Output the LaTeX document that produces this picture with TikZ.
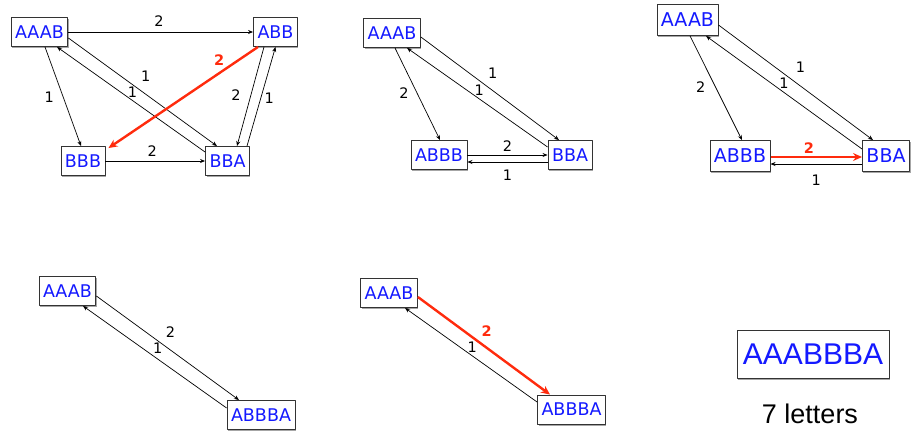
\documentclass[tikz,border=0pt]{standalone}
\usepackage{fontspec}
\usepackage{tikz}
\usetikzlibrary{arrows.meta,shadows}
\setmainfont{Liberation Sans}
\newfontfamily\lucid{DejaVu Sans}
\definecolor{stateblue}{rgb}{0.08,0.1,1.0}
\definecolor{hotred}{rgb}{1.0,0.17,0.05}
\tikzset{
  state/.style={draw=black!80, line width=0.9pt, fill=white, text=stateblue,
    font=\lucid\fontsize{17.5}{18}\selectfont, minimum height=29pt,
    inner xsep=4pt, inner ysep=0pt,
    drop shadow={shadow xshift=1pt, shadow yshift=-1.5pt, opacity=.35, fill=black}},
  big state/.style={state, font=\lucid\fontsize{19}{20}\selectfont, minimum height=31pt},
  edge/.style={-{Stealth[length=5pt,width=4pt]}, line width=0.7pt, black},
  hot/.style={-{Stealth[length=9pt,width=8pt]}, line width=2.4pt, hotred},
  lbl/.style={font=\lucid\fontsize{14.5}{15}\selectfont, inner sep=0pt},
  hot lbl/.style={lbl, text=hotred, font=\lucid\bfseries\fontsize{14.5}{15}\selectfont},
}
\begin{document}
\begin{tikzpicture}[x=1pt,y=-1pt,line join=bevel]
\useasboundingbox (0,0) rectangle (913,445);
%%
% Node: AAAB, ABB, BBB, BBA
\node[state] (p1aaab) at (39.5,32) {AAAB};
\node[state] (p1abb) at (275.5,32) {ABB};
\node[state] (p1bbb) at (83,161) {BBB};
\node[state] (p1bba) at (227.5,161) {BBA};
% Edge: AAAB -> ABB
\draw[edge] (p1aaab.east) -- node[lbl,pos=.49,yshift=11pt] {2} (p1abb.west);
% Edge: AAAB -> BBB
\draw[edge] ([xshift=5.5pt]p1aaab.south) -- node[lbl,pos=.51,xshift=-14pt] {1} ([xshift=-2pt]p1bbb.north);
% Edge: AAAB -> BBA
\draw[edge] ([yshift=-6pt]p1aaab.east) -- node[lbl,pos=.52,yshift=18pt] {1} ([xshift=-10.5pt]p1bba.north);
% Edge: BBA -> AAAB
\draw[edge] ([yshift=9pt]p1bba.west) -- node[lbl,pos=.49,yshift=8.5pt] {1} ([xshift=17.5pt]p1aaab.south);
% Edge: ABB -> BBB
\draw[hot] ([xshift=-17.5pt]p1abb.south) -- node[hot lbl,pos=.26,yshift=13pt] {2} ([xshift=3pt,yshift=-2pt]p1bbb.north east);
% Edge: ABB -> BBA
\draw[edge] ([xshift=-11.5pt]p1abb.south) -- node[lbl,pos=.485,xshift=-15pt] {2} ([xshift=9.5pt]p1bba.north);
% Edge: BBA -> ABB
\draw[edge] ([xshift=19.5pt]p1bba.north) -- node[lbl,pos=.48,xshift=8.5pt] {1} (p1abb.south);
% Edge: BBB -> BBA
\draw[edge] (p1bbb.east) -- node[lbl,pos=.47,yshift=10pt] {2} (p1bba.west);
%%
% Node: AAAB, ABBB, BBA
\node[state] (p2aaab) at (392,33) {AAAB};
\node[state] (p2abbb) at (439,155) {ABBB};
\node[state] (p2bba) at (570,155) {BBA};
% Edge: AAAB -> ABBB
\draw[edge] ([xshift=3pt]p2aaab.south) -- node[lbl,pos=.49,xshift=-13pt] {2} ([xshift=1pt]p2abbb.north);
% Edge: AAAB -> BBA
\draw[edge] ([yshift=-4pt]p2aaab.east) -- node[lbl,pos=.52,yshift=17pt] {1} ([xshift=-11pt]p2bba.north);
% Edge: BBA -> AAAB
\draw[edge] ([yshift=8pt]p2bba.west) -- node[lbl,pos=.486,yshift=8.5pt] {1} ([xshift=15pt]p2aaab.south);
% Edge: ABBB -> BBA
\draw[edge] (p2abbb.east) -- node[lbl,pos=.5,yshift=9pt] {2} (p2bba.west);
% Edge: BBA -> ABBB
\draw[edge] ([yshift=-7pt]p2bba.west) -- node[lbl,pos=.5,yshift=-13pt] {1} ([yshift=-7pt]p2abbb.east);
%%
% Node: AAAB, ABBB, BBA
\node[big state] (p3aaab) at (687.5,20) {AAAB};
\node[big state] (p3abbb) at (740,156) {ABBB};
\node[big state] (p3bba) at (886,156) {BBA};
% Edge: AAAB -> ABBB
\draw[edge] ([xshift=2.5pt]p3aaab.south) -- node[lbl,pos=.495,xshift=-15pt] {2} ([xshift=2pt]p3abbb.north);
% Edge: AAAB -> BBA
\draw[edge] ([yshift=-5pt]p3aaab.east) -- node[lbl,pos=.53,yshift=19pt] {1} ([xshift=-13pt]p3bba.north);
% Edge: BBA -> AAAB
\draw[edge] ([yshift=7pt]p3bba.west) -- node[lbl,pos=.5,yshift=9pt] {1} ([xshift=18.5pt]p3aaab.south);
% Edge: ABBB -> BBA
\draw[hot] ([yshift=-1pt]p3abbb.east) -- node[hot lbl,pos=.42,yshift=9pt] {2} ([yshift=-1pt]p3bba.west);
% Edge: BBA -> ABBB
\draw[edge] ([yshift=-8pt]p3bba.west) -- node[lbl,pos=.5,yshift=-16pt] {1} ([yshift=-8pt]p3abbb.east);
%%
% Node: AAAB, ABBBA
\node[state] (p4aaab) at (67.5,291) {AAAB};
\node[state] (p4abbba) at (261,415) {ABBBA};
% Edge: AAAB -> ABBBA
\draw[edge] ([yshift=-5pt]p4aaab.east) -- node[lbl,pos=.52,yshift=17.5pt] {2} ([xshift=-22pt]p4abbba.north);
% Edge: ABBBA -> AAAB
\draw[edge] ([yshift=7pt]p4abbba.west) -- node[lbl,pos=.48,yshift=11pt] {1} ([xshift=15.5pt]p4aaab.south);
%%
% Node: AAAB, ABBBA
\node[state] (p5aaab) at (389,293) {AAAB};
\node[state] (p5abbba) at (571.5,409.5) {ABBBA};
% Edge: AAAB -> ABBBA
\draw[hot] ([yshift=-4pt]p5aaab.east) -- node[hot lbl,pos=.52,yshift=16.5pt] {2} ([xshift=-21.5pt]p5abbba.north);
% Edge: ABBBA -> AAAB
\draw[edge] ([yshift=7.5pt]p5abbba.west) -- node[lbl,pos=.49,yshift=8.5pt] {1} ([xshift=16pt]p5aaab.south);
%%
% Node: word
\node[draw=black!80, line width=0.9pt, fill=white, text=stateblue, minimum width=152pt, minimum height=48pt,
  font=\fontsize{30}{30}\selectfont, inner sep=0pt,
  drop shadow={shadow xshift=1pt, shadow yshift=-1.5pt, opacity=.35, fill=black}] (p6word) at (813,354) {AAABBBA};
\node[font=\fontsize{27}{27}\selectfont, inner sep=0pt] (p6count) at (810,414) {7 letters};
%
\end{tikzpicture}
\end{document}
